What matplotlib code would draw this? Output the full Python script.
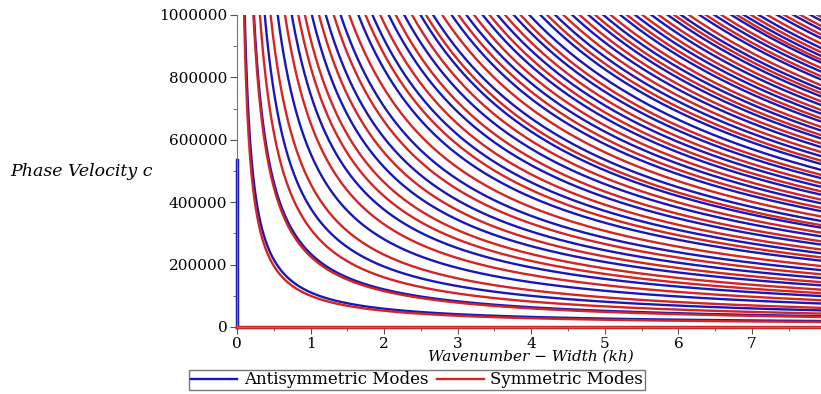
import numpy as np
import matplotlib.pyplot as plt
from matplotlib.ticker import MultipleLocator, FuncFormatter

# mode constants (c ~ a / kh + b), a in units of 1000
anti_a = [105, 229, 375, 550, 740, 1012, 1200, 1400, 1640, 1830, 2050, 2260, 2480,
          2650, 2900, 3100, 3320, 3520, 3740, 3950, 4100, 4300, 4530, 4750, 4950,
          5180, 5380, 5600, 5820, 6000, 6250, 6450, 6680, 6850, 7050, 7300, 7520,
          7750]
sym_a = [96, 222, 310, 455, 650, 830, 919, 1110, 1310, 1520, 1740, 1940, 2150,
         2370, 2560, 2780, 3000, 3210, 3420, 3630, 3840, 4200, 4420, 4640, 4850,
         5060, 5280, 5490, 5710, 5920, 6120, 6350, 6560, 6770, 6960, 7180, 7410,
         7630, 7860]
anti_b = 6000
sym_b = 4000

# fundamental modes
a0_kh = [0, 0]
a0_c = [0, 535000]
s0_kh = [0, 8]
s0_c = [0, 0]

xticks = [0, 1, 2, 3, 4, 5, 6, 7]
yticks = [0, 200000, 400000, 600000, 800000, 1000000]

BLUE = "#1818b8"
RED = "#d42424"

plt.rcParams["font.family"] = ["DejaVu Serif"]

fig = plt.figure(figsize=(8.21, 3.94), dpi=100)
ax = fig.add_axes([237 / 821, 1 - 327 / 394, 1 - 237 / 821, (327 - 15) / 394])

kh = np.linspace(0.02, 8, 800)

for a in anti_a:
    ax.plot(kh, a * 1000 / kh + anti_b, color=BLUE, lw=1.7)
for a in sym_a:
    ax.plot(kh, a * 1000 / kh + sym_b, color=RED, lw=1.7)

ax.plot(a0_kh, a0_c, color=BLUE, lw=2.5, clip_on=False)
ax.plot(s0_kh, s0_c, color=RED, lw=2.5, clip_on=False)

ax.set_xlim(0, (821 - 237) / 73.57)
ax.set_ylim(0, 1000000)
ax.set_xticks(xticks)
ax.set_yticks(yticks)
ax.yaxis.set_major_formatter(FuncFormatter(lambda v, p: f"{int(v)}"))
ax.xaxis.set_minor_locator(MultipleLocator(0.5))
ax.yaxis.set_minor_locator(MultipleLocator(100000))
ax.tick_params(labelsize=11, color="#555555", length=5, direction="out", pad=2)
ax.tick_params(which="minor", color="#555555", length=3)
for s in ["top", "right"]:
    ax.spines[s].set_visible(False)
ax.spines["left"].set_color("#777777")
ax.spines["bottom"].set_color("#777777")

fig.text(10 / 821, 1 - 172 / 394, "Phase Velocity c", fontsize=12.5, style="italic",
         ha="left", va="center")
fig.text(531 / 821, 1 - 357 / 394, "Wavenumber − Width (kh)", fontsize=11,
         style="italic", ha="center", va="center")

h1, = ax.plot([], [], color=BLUE, lw=1.7, label="Antisymmetric Modes")
h2, = ax.plot([], [], color=RED, lw=1.7, label="Symmetric Modes")
fig.legend(handles=[h1, h2], loc="center", bbox_to_anchor=(417 / 821, 1 - 380 / 394),
           ncol=2, fontsize=12, frameon=True, fancybox=False, edgecolor="#555555",
           borderpad=0.1, handlelength=2.8, columnspacing=0.5, handletextpad=0.4,
           borderaxespad=0)

fig.savefig("out.png", dpi=100)
